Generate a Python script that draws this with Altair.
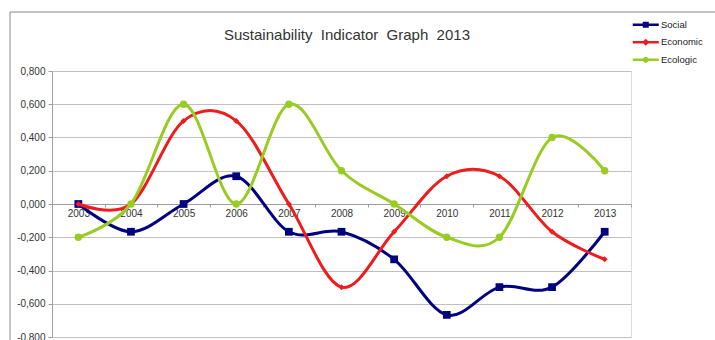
import altair as alt
import pandas as pd

years = ["2003", "2004", "2005", "2006", "2007", "2008", "2009", "2010", "2011", "2012", "2013"]
series_names = ["Social", "Economic", "Ecologic"]
social = [0.0, -0.167, 0.0, 0.167, -0.167, -0.167, -0.333, -0.667, -0.5, -0.5, -0.167]
economic = [0.0, 0.0, 0.5, 0.5, 0.0, -0.5, -0.167, 0.167, 0.167, -0.167, -0.333]
ecologic = [-0.2, 0.0, 0.6, 0.0, 0.6, 0.2, 0.0, -0.2, -0.2, 0.4, 0.2]
y_ticks = [-0.8, -0.6, -0.4, -0.2, 0.0, 0.2, 0.4, 0.6, 0.8]
title_text = "Sustainability\u00a0\u00a0Indicator\u00a0\u00a0Graph\u00a0\u00a02013"

colors = ["#000080", "#ee1c1c", "#99cc22"]
marker_shapes = ["square", "diamond", "circle"]
marker_sizes = [60, 36, 55]
legend_paths = [
    "M-3.25,-0.3H3.25V0.3H-3.25Z M-0.75,-0.75H0.75V0.75H-0.75Z",
    "M-3.25,-0.3H3.25V0.3H-3.25Z M0,-0.9L0.9,0L0,0.9L-0.9,0Z",
    "M-3.25,-0.3H3.25V0.3H-3.25Z M0.75,0A0.75,0.75 0 1,1 -0.75,0A0.75,0.75 0 1,1 0.75,0Z",
]

rows = []
for name, vals in zip(series_names, [social, economic, ecologic]):
    for yr, v in zip(years, vals):
        rows.append({"Year": yr, "Value": v, "Series": name})
df = pd.DataFrame(rows)

FONT = "Liberation Sans"

x_enc = alt.X(
    "Year:O",
    scale=alt.Scale(type="band", paddingInner=0, paddingOuter=0, domain=years),
    axis=alt.Axis(
        title=None, orient="bottom", offset=-133, labelAngle=0, labelFontSize=10,
        labelFont=FONT, labelColor="#333333", tickBand="extent", tickSize=3,
        tickColor="#a0a0a0", domainColor="#a0a0a0", labelPadding=1, grid=False,
    ),
)
y_enc = alt.Y(
    "Value:Q",
    scale=alt.Scale(domain=[-0.8, 0.8], nice=False, zero=False),
    axis=alt.Axis(
        title=None, values=y_ticks, labelFontSize=10, labelFont=FONT, labelColor="#333333",
        labelExpr="(datum.value < -0.0001 ? '-' : '') + replace(format(abs(datum.value), '.3f'), '.', ',')",
        tickSize=4, tickColor="#a0a0a0", domainColor="#a0a0a0", labelPadding=3,
        gridColor="#c0c0c0", gridWidth=1,
    ),
)

legend_spec = alt.Legend(
    title=None, orient="none", legendX=589, legendY=-51, labelFontSize=9.5,
    labelFont=FONT, labelColor="#222222", labelOffset=10.5, rowPadding=6.5,
    symbolSize=64, symbolStrokeWidth=0, symbolOpacity=1, padding=0,
)

base = alt.Chart(df)
layers = []

border = alt.Chart(pd.DataFrame({"t": [title_text]})).mark_rect(
    fill=None, stroke="#8a8a8a", strokeWidth=1
).encode(x=alt.value(-42), x2=alt.value(700), y=alt.value(-59), y2=alt.value(320))
layers.append(border)

title_mark = alt.Chart(pd.DataFrame({"t": [title_text]})).mark_text(
    font=FONT, fontSize=15, color="#333333", align="center", baseline="alphabetic"
).encode(x=alt.value(295), y=alt.value(-31), text="t:N")
layers.append(title_mark)

for name, col, shp, sz in zip(series_names, colors, marker_shapes, marker_sizes):
    sub = base.transform_filter(alt.datum.Series == name)
    line = sub.mark_line(color=col, strokeWidth=3, interpolate="cardinal").encode(x=x_enc, y=y_enc)
    pts = sub.mark_point(color=col, shape=shp, size=sz, filled=True, opacity=1).encode(x=x_enc, y=y_enc)
    layers += [line, pts]

legend_layer = base.mark_point(filled=True, opacity=0, size=64).encode(
    x=x_enc,
    y=y_enc,
    color=alt.Color("Series:N", scale=alt.Scale(domain=series_names, range=colors), legend=legend_spec),
    shape=alt.Shape("Series:N", scale=alt.Scale(domain=series_names, range=legend_paths), legend=legend_spec),
)
layers.append(legend_layer)

chart = alt.layer(*layers).properties(
    width=579,
    height=266,
    padding={"left": 52, "top": 71, "right": 84, "bottom": 3},
    autosize=alt.AutoSizeParams(type="none"),
).configure_view(stroke="#c0c0c0", strokeWidth=1).configure(background="white")

chart.save("out.html", embed_options={"renderer": "svg", "actions": False})
